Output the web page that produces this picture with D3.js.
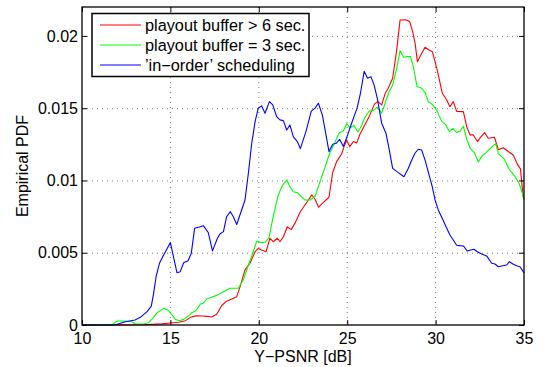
<!DOCTYPE html>
<html>
<head>
<meta charset="utf-8">
<script src="https://cdn.jsdelivr.net/npm/d3@7"></script>
<style>
  body { margin: 0; background: #fff; }
  svg { display: block; font-family: "Liberation Sans", Arial, Helvetica, sans-serif; }
</style>
</head>
<body>
<svg id="chart" width="543" height="367"></svg>
<script>
// PDF values are in units of 1e-3, pairs are [Y-PSNR dB, pdf]
const bufferLong = [[10,0],[12.5,0],[13.5,0.02],[14.5,0.08],[15.0,0.14],[15.47,0.19],[15.85,0.3],[16.13,0.53],[16.45,0.63],[16.8,0.62],[17.05,0.6],[17.33,0.55],[17.62,0.75],[17.9,1.35],[18.18,1.65],[18.47,1.8],[18.75,1.96],[18.93,2.6],[19.22,3.81],[19.5,4.27],[19.79,5.07],[19.97,5.3],[20.16,5.19],[20.41,5.07],[20.63,6.0],[20.82,5.76],[21.05,6.0],[21.2,5.76],[21.39,6.11],[21.61,6.8],[21.83,6.6],[22.07,7.1],[22.33,7.8],[22.61,8.3],[23.0,9.0],[23.18,8.7],[23.38,8.15],[23.67,8.5],[23.97,8.84],[24.18,10.55],[24.4,11.3],[24.69,11.85],[24.82,12.34],[24.97,12.8],[25.14,12.34],[25.35,12.69],[25.54,12.6],[25.72,13.2],[25.98,13.8],[26.25,14.45],[26.55,15.3],[26.74,15.45],[26.95,15.23],[27.15,16.03],[27.32,16.38],[27.57,17.07],[27.8,19.03],[27.99,21.1],[28.3,21.12],[28.53,21.0],[28.7,20.3],[28.84,19.5],[28.97,18.22],[29.17,18.69],[29.4,19.22],[29.62,19.03],[29.82,18.9],[30.1,17.6],[30.38,16.03],[30.63,15.57],[30.81,15.1],[31.0,15.45],[31.19,14.78],[31.57,14.76],[31.76,13.72],[31.95,13.15],[32.13,13.15],[32.37,12.69],[32.55,13.0],[32.77,13.31],[32.98,12.92],[33.33,12.99],[33.55,12.13],[33.83,12.26],[34.11,12.0],[34.4,11.74],[34.62,11.13],[34.8,10.8],[34.95,8.88],[35,8.7]];

const bufferShort = [[10,0],[11.7,0],[11.98,0.28],[12.45,0.28],[12.83,0.23],[13.02,0.07],[13.49,0.07],[13.77,0.16],[14.0,0.46],[14.24,0.85],[14.62,1.15],[14.86,1.04],[15.05,0.76],[15.28,0.39],[15.5,0.30],[15.75,0.39],[16.0,0.6],[16.22,0.85],[16.45,1.0],[16.7,1.45],[16.85,1.5],[17.05,1.8],[17.39,1.95],[17.62,2.05],[17.99,2.3],[18.37,2.54],[18.84,2.54],[19.12,3.11],[19.41,4.15],[19.69,5.07],[19.88,5.8],[20.16,5.70],[20.35,5.72],[20.58,6.05],[20.82,7.55],[21.1,9.0],[21.35,9.69],[21.58,10.03],[21.76,9.57],[21.95,9.22],[22.18,9.16],[22.43,8.85],[22.61,8.65],[22.9,8.65],[23.18,8.9],[23.46,9.9],[23.74,10.9],[24.03,11.95],[24.31,12.65],[24.55,13.3],[24.78,13.42],[24.97,13.93],[25.16,13.65],[25.39,13.8],[25.6,13.35],[25.8,13.75],[26.0,14.37],[26.25,14.8],[26.48,14.85],[26.7,15.07],[26.95,14.65],[27.19,15.52],[27.38,16.15],[27.57,16.61],[27.8,17.76],[27.99,18.98],[28.19,18.52],[28.4,18.57],[28.58,18.57],[28.74,17.88],[28.95,16.5],[29.21,16.38],[29.4,16.1],[29.59,15.45],[29.78,15.3],[30.06,14.88],[30.35,14.07],[30.56,13.88],[30.78,13.38],[30.97,13.61],[31.19,13.31],[31.4,13.44],[31.57,13.75],[31.76,12.86],[31.95,12.23],[32.18,11.95],[32.42,11.28],[32.63,11.7],[32.85,11.92],[33.17,12.3],[33.4,12.55],[33.55,11.85],[33.88,11.48],[34.16,10.78],[34.47,10.32],[34.72,9.8],[34.96,8.94],[35,8.7]];

const inOrder = [[10,0],[11.5,0],[11.9,0.02],[12.45,0.23],[13.0,0.35],[13.3,0.53],[13.68,0.92],[13.92,1.31],[14.05,2.19],[14.19,3.34],[14.38,4.27],[14.62,4.84],[15.0,5.70],[15.37,3.62],[15.56,3.69],[15.75,4.31],[16.0,4.45],[16.18,4.96],[16.37,6.69],[16.69,6.80],[16.86,6.87],[17.14,6.40],[17.38,5.13],[17.66,6.0],[17.8,6.3],[18.0,6.46],[18.18,7.49],[18.39,7.84],[18.56,7.49],[18.75,6.95],[19.0,7.85],[19.22,8.65],[19.41,10.5],[19.6,12.57],[19.79,14.07],[19.97,15.0],[20.16,15.16],[20.35,14.65],[20.6,15.45],[20.79,15.23],[21.01,14.41],[21.2,14.19],[21.39,14.14],[21.58,13.49],[21.76,13.84],[21.95,13.03],[22.18,12.69],[22.35,12.2],[22.67,13.4],[22.97,14.8],[23.18,15.0],[23.37,15.34],[23.6,14.5],[23.8,13.15],[23.97,12.0],[24.18,12.5],[24.38,12.57],[24.57,12.85],[24.78,12.36],[24.97,12.95],[25.16,13.65],[25.35,14.3],[25.56,15.0],[25.76,16.1],[25.96,17.55],[26.15,17.07],[26.34,17.18],[26.52,16.61],[26.7,15.69],[26.95,13.96],[27.19,13.27],[27.38,12.11],[27.57,10.84],[27.89,10.54],[28.21,10.26],[28.46,10.84],[28.65,11.42],[28.84,11.9],[29.02,12.16],[29.21,12.11],[29.4,11.42],[29.63,10.38],[29.81,9.57],[29.97,8.65],[30.15,7.96],[30.4,7.31],[30.63,6.69],[30.81,6.23],[31.0,5.88],[31.19,5.52],[31.38,5.49],[31.57,5.47],[31.79,5.12],[31.99,5.19],[32.17,5.24],[32.36,5.07],[32.61,4.91],[32.89,4.78],[33.17,4.27],[33.36,4.22],[33.55,4.03],[33.8,4.1],[34.02,4.15],[34.17,4.38],[34.4,4.2],[34.62,4.08],[34.77,4.03],[34.96,3.69],[35,3.6]];

const seriesNames = ["playout buffer > 6 sec.", "playout buffer = 3 sec.", "\u2019in\u2212order\u2019 scheduling"];
const seriesColors = ["#ff0000", "#00ff00", "#0000ff"];
const seriesData = [bufferLong, bufferShort, inOrder];

const xTicks = [10, 15, 20, 25, 30, 35];
const yTicks = [0, 0.005, 0.01, 0.015, 0.02];
const yTickLabels = ["0", "0.005", "0.01", "0.015", "0.02"];
const xLabel = "Y\u2212PSNR [dB]";
const yLabel = "Empirical PDF";

const margin = { left: 82, right: 19, top: 7, bottom: 42 };
const width = 543, height = 367;
const innerW = width - margin.left - margin.right;
const innerH = height - margin.top - margin.bottom;

const svg = d3.select("#chart");
const g = svg.append("g").attr("transform", `translate(${margin.left},${margin.top})`);

const x = d3.scaleLinear().domain([10, 35]).range([0, innerW]);
const y = d3.scaleLinear().domain([0, 0.022]).range([innerH, 0]);

// dotted grid
g.append("g").selectAll("line").data(xTicks.slice(1, -1)).join("line")
    .attr("x1", d => x(d)).attr("x2", d => x(d))
    .attr("y1", 0).attr("y2", innerH)
    .attr("stroke", "#777").attr("stroke-width", 1).attr("stroke-dasharray", "1,4");
g.append("g").selectAll("line").data(yTicks.slice(1)).join("line")
    .attr("x1", 0).attr("x2", innerW)
    .attr("y1", d => y(d) + 0.5).attr("y2", d => y(d) + 0.5)
    .attr("stroke", "#777").attr("stroke-width", 1).attr("stroke-dasharray", "1,4");

// curves
const line = d3.line().x(d => x(d[0])).y(d => y(d[1] * 1e-3));
g.append("g").selectAll("path").data(seriesData).join("path")
    .attr("d", line)
    .attr("fill", "none")
    .attr("stroke", (d, i) => seriesColors[i])
    .attr("stroke-width", 1.1)
    .attr("stroke-linejoin", "round");

// axes with inward ticks on all four sides
const axStyle = sel => {
    sel.select(".domain").remove();
    sel.selectAll(".tick line").attr("stroke", "#000");
    sel.selectAll(".tick text").attr("fill", "#000").attr("font-size", 16)
        .attr("font-family", "'Liberation Sans', Arial, sans-serif");
};
g.append("g").attr("transform", `translate(0,${innerH})`)
    .call(d3.axisBottom(x).tickValues(xTicks).tickFormat(d3.format("d")).tickSize(-5).tickPadding(8))
    .call(axStyle);
g.append("g")
    .call(d3.axisTop(x).tickValues(xTicks).tickFormat("").tickSize(-5))
    .call(axStyle);
g.append("g")
    .call(d3.axisLeft(y).tickValues(yTicks).tickFormat((d, i) => yTickLabels[i]).tickSize(-5).tickPadding(4))
    .call(axStyle);
g.append("g").attr("transform", `translate(${innerW},0)`)
    .call(d3.axisRight(y).tickValues(yTicks).tickFormat("").tickSize(-5))
    .call(axStyle);

g.append("rect").attr("width", innerW).attr("height", innerH)
    .attr("fill", "none").attr("stroke", "#000").attr("stroke-width", 1.3);

// axis labels
svg.append("text")
    .attr("x", margin.left + innerW / 2).attr("y", 362)
    .attr("text-anchor", "middle").attr("font-size", 16).text(xLabel);
svg.append("text")
    .attr("transform", `translate(28,${margin.top + innerH / 2}) rotate(-90)`)
    .attr("text-anchor", "middle").attr("font-size", 16).text(yLabel);

// legend
const legend = svg.append("g").attr("transform", "translate(92,13.5)");
legend.append("rect").attr("width", 217).attr("height", 63)
    .attr("fill", "#fff").attr("stroke", "#000").attr("stroke-width", 1.5);
const rows = legend.selectAll("g.row").data(seriesNames).join("g")
    .attr("class", "row")
    .attr("transform", (d, i) => `translate(0,${11.5 + i * 20})`);
rows.append("line").attr("x1", 8).attr("x2", 49)
    .attr("stroke", (d, i) => seriesColors[i]).attr("stroke-width", 1.1);
rows.append("text").attr("x", 53).attr("dy", "0.35em")
    .attr("font-size", 16.3).text(d => d);
</script>
</body>
</html>
